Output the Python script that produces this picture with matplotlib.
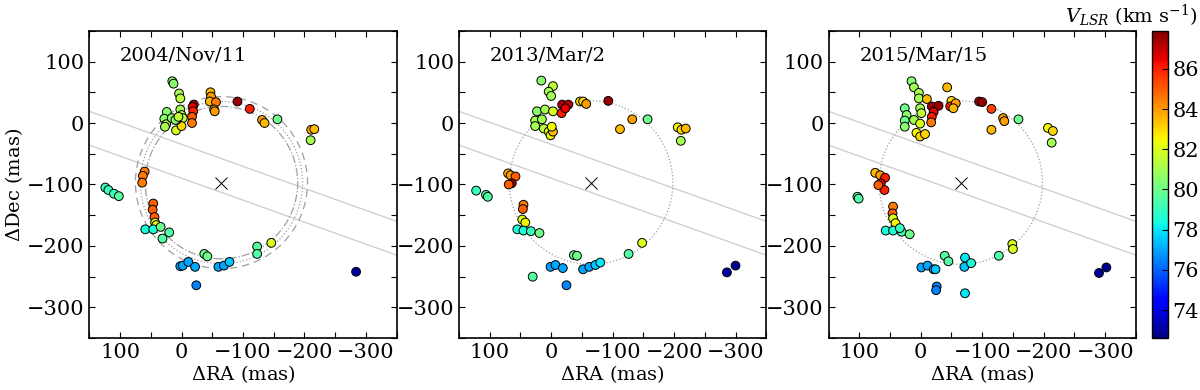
import numpy as np
import matplotlib
matplotlib.use("Agg")
import matplotlib.pyplot as plt
from matplotlib.patches import Circle
from matplotlib.ticker import MultipleLocator

plt.rcParams['font.family'] = ['DejaVu Serif']
plt.rcParams['mathtext.fontset'] = 'dejavuserif'

# --- data: RA offset, Dec offset (mas), V_LSR (km/s) ---
ra_2004 = [15, 13, 4, 2, 24, 28, 25, 27, 16, 9, 2, 0, -2, 0, 8, 10, 5,
           -20, -18, -19, -17, -17, -47, -48, -46, -56, -53, -54,
           -91, -111, -131, -135, -156, -211, -216, -210,
           60, 63, 64, 124, 119, 110, 102, 46, 47, 44, 43, 41, 59, 46, 34, 20, 31,
           -37, -42, -123, -123, -146, 2, -2, -11, -22, -24, -60, -69, -78, -284]
dec_2004 = [68, 64, 48, 40, 18, 7, -2, -6, 8, -12, 22, 13, 8, -5, 5, 5, 10,
            30, 26, 19, 10, 0, 50, 43, 35, 34, 22, 19,
            35, 23, 5, 0, 6, -11, -10, -28,
            -79, -86, -97, -105, -109, -115, -119, -131, -141, -153, -162, -166, -173, -173, -169, -178, -188,
            -213, -217, -201, -213, -195, -233, -232, -226, -234, -264, -234, -232, -226, -242]
v_2004 = [80.5, 80.5, 81, 81.5, 80.5, 80.5, 81.5, 81, 80.5, 82, 81, 81, 81.5, 83, 81, 80.5, 81.5,
          87.5, 86.5, 86, 85, 84.5, 83.5, 84, 83.5, 84.5, 83.5, 84,
          87.5, 86, 84, 83.5, 80, 83.5, 83.5, 81,
          84.5, 84.5, 84.5, 79, 79, 79, 79.5, 85, 85, 85, 82, 82.5, 78.5, 78.5, 80, 79.5, 79.5,
          80, 80, 79.5, 79.5, 82, 77, 77, 77, 77, 76.5, 77, 77, 77.5, 73]

ra_2013 = [16, -3, 4, 0, 23, 10, -3, 26, 15, 26, 12, 4, 1, -3, -1,
           -18, -28, -17, -23, -47, -52, -57, -93, -112, -132, -157, -206, -212, -219, -211,
           70, 66, 58, 64, 69, 122, 106, 103, 45, 46, 47, 42, 55, 45, 33, 19,
           30, 1, -7, -19, -25, -37, -42, -52, -62, -72, -80, -126, -148, -286, -300]
dec_2013 = [69, 60, 51, 44, 19, 22, 19, 4, 6, -5, -9, -14, -20, -14, -6,
            30, 30, 16, 24, 35, 35, 31, 36, -10, 6, 6, -7, -11, -9, -29,
            -82, -85, -87, -98, -100, -110, -117, -120, -133, -140, -157, -162, -173, -175, -176, -179,
            -250, -234, -231, -236, -264, -215, -216, -238, -234, -231, -227, -213, -195, -243, -232]
v_2013 = [80.5, 81.5, 81, 81, 80.5, 81, 82, 81, 81, 81, 81.5, 82, 82.5, 83.5, 82.5,
          87.2, 87.2, 86, 86.5, 83, 83, 84, 87.5, 83.5, 84, 80, 82.5, 83, 83.5, 81,
          83.5, 84, 85, 87.5, 85, 79, 79.5, 79.5, 84.5, 85, 82, 82.5, 78.5, 78.5, 79, 80,
          79.5, 77, 77, 77, 76.5, 80, 80, 77, 77, 77.5, 78, 79.5, 82, 73, 72.8]

ra_2015 = [15, 11, 3, 3, -10, 1, -1, 26, 23, 26, 26, 11, 1, 7, 1, -7,
           -18, -29, -21, -18, -17, -43, -50, -48, -57, -53, -95, -100, -115, -134, -136, -115,
           -159, -207, -215, -213,
           74, 66, 58, 65, 59, 69, 103, 101, 45, 46, 45, 41, 57, 45, 31, 18, 34,
           -1, -11, -21, -24, -26, -25, -39, -45, -72, -71, -82, -72, -127, -149, -150, -290, -302]
dec_2015 = [68, 58, 49, 40, 39, 24, 16, 24, 13, 4, -6, 5, -1, -16, -22, -18,
            27, 28, 18, 10, 1, 58, 36, 27, 32, 24, 35, 34, 23, 8, 3, -11,
            6, -8, -13, -32,
            -81, -85, -89, -98, -109, -101, -120, -123, -136, -147, -155, -163, -175, -175, -177, -181, -171,
            -235, -232, -238, -238, -266, -272, -216, -225, -219, -234, -228, -277, -216, -197, -205, -244, -235]
v_2015 = [80.5, 81, 81, 81, 83.5, 81, 81.5, 80, 80.5, 80, 80.5, 81, 82, 82.5, 83, 83,
          87.5, 87.5, 86.5, 86, 84.5, 83.5, 83, 86, 84, 83.5, 87.5, 87.5, 85.5, 84, 84, 83.5,
          80, 82.5, 83, 81,
          83.5, 84, 86, 86.5, 86, 85, 79.5, 79.5, 84.5, 85, 82, 82.5, 78.5, 78.5, 79, 80, 79,
          77, 77, 77, 77.5, 76.5, 76.5, 79.5, 79.5, 78, 77.5, 78.5, 78, 79.5, 82, 82, 73, 72.8]

panels = [("2004/Nov/11", ra_2004, dec_2004, v_2004),
          ("2013/Mar/2", ra_2013, dec_2013, v_2013),
          ("2015/Mar/15", ra_2015, dec_2015, v_2015)]

center = (-65, -97)
vmin, vmax = 72.6, 87.9

fig = plt.figure(figsize=(12, 3.9), dpi=100)
lefts = [0.074, 0.382, 0.690]
width, bottom, height = 0.257, 0.133, 0.788

line_ra = np.array([150, -350])

for i, (label, ra, dec, v) in enumerate(panels):
    ax = fig.add_axes([lefts[i], bottom, width, height])

    # two parallel grey lines
    ax.plot(line_ra, 19 + 0.358 * (line_ra - 150), color='#d0d0d0', lw=1, zorder=1)
    ax.plot(line_ra, -36 + 0.358 * (line_ra - 150), color='#d0d0d0', lw=1, zorder=1)

    if i == 0:
        ax.add_patch(Circle(center, 140, fill=False, ls=(0, (6, 4)), ec='#a0a0a0', lw=0.9, zorder=1))
        ax.add_patch(Circle(center, 132, fill=False, ls=':', ec='#a0a0a0', lw=0.9, zorder=1))
        ax.add_patch(Circle(center, 124, fill=False, ls='-.', ec='#a0a0a0', lw=0.9, zorder=1))
    else:
        ax.add_patch(Circle(center, 133, fill=False, ls=':', ec='#a0a0a0', lw=0.9, zorder=1))

    sc = ax.scatter(ra, dec, c=v, cmap='jet', vmin=vmin, vmax=vmax, s=40,
                    edgecolors='black', linewidths=0.7, zorder=3)
    ax.plot(*center, marker='x', color='black', ms=8, mew=0.7, zorder=2)

    ax.set_xlim(150, -350)
    ax.set_ylim(-350, 150)
    ax.set_aspect('equal', adjustable='box')
    ax.xaxis.set_major_locator(MultipleLocator(100))
    ax.yaxis.set_major_locator(MultipleLocator(100))
    ax.xaxis.set_minor_locator(MultipleLocator(50))
    ax.yaxis.set_minor_locator(MultipleLocator(50))
    ax.tick_params(which='both', direction='in', top=True, right=True, length=4, width=0.8, labelsize=15)
    for s in ax.spines.values():
        s.set_linewidth(1.2)
    ax.set_xlabel(r'$\Delta$RA (mas)', fontsize=14, labelpad=1)
    if i == 0:
        ax.set_ylabel(r'$\Delta$Dec (mas)', fontsize=14, labelpad=1)
    ax.text(0.1, 0.92, label, transform=ax.transAxes, fontsize=14, va='center', ha='left')

cax = fig.add_axes([0.960, bottom, 0.013, height])
cb = fig.colorbar(sc, cax=cax, ticks=[74, 76, 78, 80, 82, 84, 86])
cb.ax.tick_params(labelsize=15, direction='in', length=4)
cb.outline.set_linewidth(1.0)
fig.text(0.998, 0.96, r'$V_{LSR}$ (km s$^{-1}$)', fontsize=14, ha='right', va='center')

fig.savefig('out.png', dpi=100)
